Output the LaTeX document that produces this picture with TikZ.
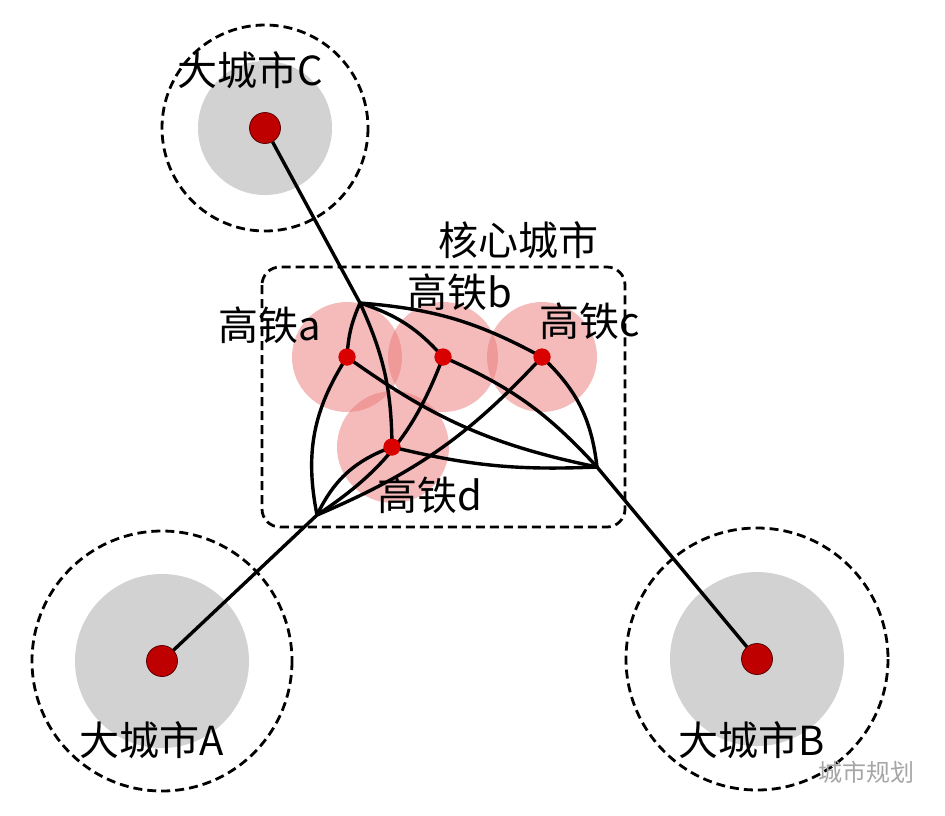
\documentclass[tikz,border=0pt]{standalone}
\usepackage{fontspec}
\newfontfamily\cjk{Noto Sans CJK SC}
\definecolor{pk}{RGB}{236,120,120}
\begin{document}
\begin{tikzpicture}[x=1pt,y=-1pt,
 lbl/.style={font=\cjk\fontsize{40}{42}\selectfont,inner sep=0pt},
 ln/.style={line width=3.4pt},
 dsh/.style={line width=2.8pt,dash pattern=on 9pt off 5pt},
 pink/.style={fill=pk,fill opacity=0.5},
 st/.style={circle,fill=red!85!black,inner sep=0pt,minimum size=17pt},
 city/.style={circle,fill=red!75!black,draw=red!35!black,line width=0.8pt,inner sep=0pt,minimum size=31pt}]
\useasboundingbox (0,0) rectangle (945,815);
\fill[white] (0,0) rectangle (945,815);
% outer cities
\fill[gray!35] (265,128) circle (67);
\draw[dsh] (265,128) circle (103);
\fill[gray!35] (162,661) circle (87);
\draw[dsh] (162,661) circle (130);
\fill[gray!35] (757,659) circle (87);
\draw[dsh] (757,659) circle (131);
% core box
\draw[dsh,rounded corners=18pt] (262,267) rectangle (625,527);
% pink circles
\fill[pink] (347,357) circle (55);
\fill[pink] (443,357) circle (55);
\fill[pink] (542,357) circle (55);
\fill[pink] (393,447) circle (56);
\coordinate (T) at (360,303);
\coordinate (L) at (317,515);
\coordinate (R) at (597,467);
\node[st] (a) at (347,357) {};
\node[st] (b) at (443,357) {};
\node[st] (c) at (542,357) {};
\node[st] (d) at (392,447) {};
\node[city] (C) at (265,128) {};
\node[city] (A) at (162,661) {};
\node[city] (B) at (757,659) {};
% trunk lines
\draw[ln] (C) -- (T);
\draw[ln] (A) -- (L);
\draw[ln] (B) -- (R);
% network curves
\draw[ln] (T) to[bend right=10] (a.center);
\draw[ln] (T) to[bend left=12] (d.center);
\draw[ln] (T) to[bend left=15] (b.center);
\draw[ln] (T) to[bend left=12] (c.center);
\draw[ln] (c.center) to[bend left=20] (R);
\draw[ln] (a.center) to[bend right=12] (R);
\draw[ln] (b.center) to[bend left=12] (R);
\draw[ln] (d.center) to[bend right=8] (R);
\draw[ln] (L) to[bend left=22] (a.center);
\draw[ln] (L) to[bend left=22] (d.center);
\draw[ln] (L) to[bend right=18] (b.center);
\draw[ln] (L) to[bend right=12] (c.center);
\foreach \n in {a,b,c,d} \node[st] at (\n) {};
% labels
\node[lbl] at (518,240) {核心城市};
\node[lbl] at (270,325) {高铁a};
\node[lbl] at (460,292) {高铁b};
\node[lbl] at (590,321) {高铁c};
\node[lbl] at (430,495) {高铁d};
\node[lbl] at (250,70) {大城市C};
\node[lbl] at (152,740) {大城市A};
\node[lbl] at (752,740) {大城市B};
\node[font=\cjk\fontsize{24}{26}\selectfont,text=gray!70,inner sep=0pt] at (866,772) {城市规划};
\end{tikzpicture}
\end{document}
